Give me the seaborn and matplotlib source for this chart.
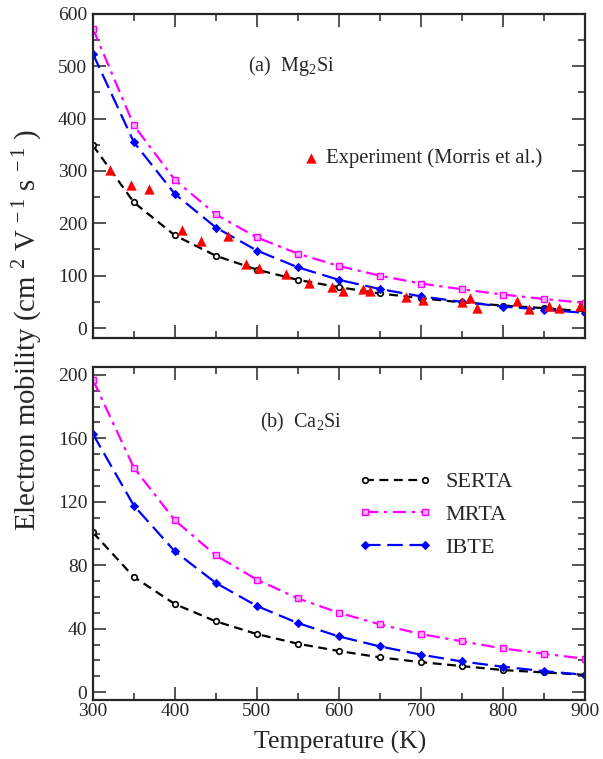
import numpy as np
import pandas as pd
import matplotlib
matplotlib.use("Agg")
import matplotlib.pyplot as plt
import seaborn as sns
from matplotlib.ticker import MultipleLocator

# ---- data ----
temps = [300, 350, 400, 450, 500, 550, 600, 650, 700, 750, 800, 850, 900]

mg_serta = [349, 240, 177, 138, 111.5, 92, 78, 66, 57, 49, 43, 38, 32]
mg_mrta = [572, 387, 283, 217, 173, 142, 118.5, 100, 85, 74, 64, 55.5, 48]
mg_ibte = [524, 355, 256, 192, 148, 116, 92, 74.5, 60.5, 50, 41, 35, 29]

exp_t = [321, 346, 368, 409, 432, 465, 487, 503, 536, 564, 592, 605, 629, 638,
         682, 703, 750, 760, 768, 817, 832, 856, 869, 894]
exp_mu = [301, 273, 266, 187, 166, 175, 122, 115, 104, 86, 78, 71, 75, 71,
          60, 53, 50, 57, 38, 51, 36, 43, 39, 43]

ca_serta = [100.7, 72.6, 55.5, 44.6, 36.6, 30.5, 25.9, 21.9, 18.9, 16.4, 13.9, 12.4, 10.9]
ca_mrta = [197, 141.5, 108.3, 86.2, 70.9, 59.1, 50, 42.7, 36.6, 32, 27.5, 24.2, 21]
ca_ibte = [162.8, 117.6, 88.7, 68.8, 54.3, 43.5, 35.1, 28.8, 23.6, 19.3, 16, 13.2, 10.9]

series_names = ["SERTA", "MRTA", "IBTE"]

sns.set_style("ticks")
plt.rcParams["font.family"] = ["Liberation Serif", "DejaVu Serif"]
plt.rcParams["mathtext.fontset"] = "custom"
plt.rcParams["mathtext.rm"] = "Liberation Serif"
plt.rcParams["mathtext.it"] = "Liberation Serif:italic"

fig = plt.figure(figsize=(6.03, 7.59), dpi=100)
ax1 = fig.add_axes([0.154, 0.5547, 0.816, 0.427])
ax2 = fig.add_axes([0.154, 0.0777, 0.816, 0.4388])

styles = {
    "SERTA": dict(color="black", linestyle=(0, (4, 2.5)), marker="o", markersize=4,
                  markerfacecolor="white", markeredgecolor="black", markeredgewidth=1.2),
    "MRTA": dict(color="#ff00ff", linestyle=(0, (6, 2.5, 1.5, 2.5)), marker="s", markersize=5,
                 markerfacecolor="#ffb0ff", markeredgecolor="#ff00ff", markeredgewidth=1.0),
    "IBTE": dict(color="#0000ff", linestyle=(0, (7, 3)), marker="D", markersize=4.5,
                 markerfacecolor="#0000ff", markeredgecolor="#0000ff"),
}

def draw(ax, vals):
    for name, v in zip(series_names, vals):
        sns.lineplot(x=temps, y=v, ax=ax, label=name, linewidth=1.6, **styles[name])

draw(ax1, [mg_serta, mg_mrta, mg_ibte])
sns.scatterplot(x=exp_t, y=exp_mu, ax=ax1, marker="^", s=55, color="red",
                edgecolor="red", linewidth=0, label="Experiment (Morris et al.)", zorder=5)
draw(ax2, [ca_serta, ca_mrta, ca_ibte])

for ax in (ax1, ax2):
    ax.set_xlim(300, 900)
    ax.xaxis.set_major_locator(MultipleLocator(100))
    ax.xaxis.set_minor_locator(MultipleLocator(50))
    ax.tick_params(which="both", direction="in", top=True, right=True, width=1.1,
                   labelsize=14, pad=4)
    ax.tick_params(axis="x", which="both", pad=2.5)
    ax.tick_params(which="major", length=9.5)
    ax.tick_params(which="minor", length=5)
    for s in ax.spines.values():
        s.set_linewidth(1.6)
    ax.set_xlabel("")
    ax.set_ylabel("")

ax1.set_ylim(-19, 600)
ax1.yaxis.set_major_locator(MultipleLocator(100))
ax1.yaxis.set_minor_locator(MultipleLocator(50))
ax1.tick_params(axis="x", which="both", labelbottom=False)

ax2.set_ylim(-5, 205)
ax2.yaxis.set_major_locator(MultipleLocator(40))
ax2.yaxis.set_minor_locator(MultipleLocator(10))

# legends
h1, l1 = ax1.get_legend_handles_labels()
ax1.legend([h1[-1]], [l1[-1]], loc="center left", bbox_to_anchor=(0.43, 0.555),
           frameon=False, fontsize=14.9, handlelength=0.6, handletextpad=0.45,
           borderaxespad=0, borderpad=0)
h2, l2 = ax2.get_legend_handles_labels()
ax2.legend(h2, l2, loc="upper left", bbox_to_anchor=(0.54, 0.685), frameon=False,
           fontsize=16, handlelength=3.3, handletextpad=0.6, labelspacing=0.55,
           numpoints=2, borderaxespad=0, borderpad=0)

ax1.text(0.315, 0.838, r"(a)  Mg$_2$Si", transform=ax1.transAxes, fontsize=14.5,
         va="center")
ax2.text(0.339, 0.832, r"(b)  Ca$_2$Si", transform=ax2.transAxes, fontsize=14.5,
         va="center")

fig.text(0.564, 0.022, "Temperature (K)", ha="center", va="center", fontsize=18.5)
fig.text(0.047, 0.565,
         r"Electron mobility (cm $^{2}$ V $^{-\,1}$ s $^{-\,1}$ )",
         rotation=90, ha="center", va="center", fontsize=20.8)

fig.savefig("out.png", dpi=100)
